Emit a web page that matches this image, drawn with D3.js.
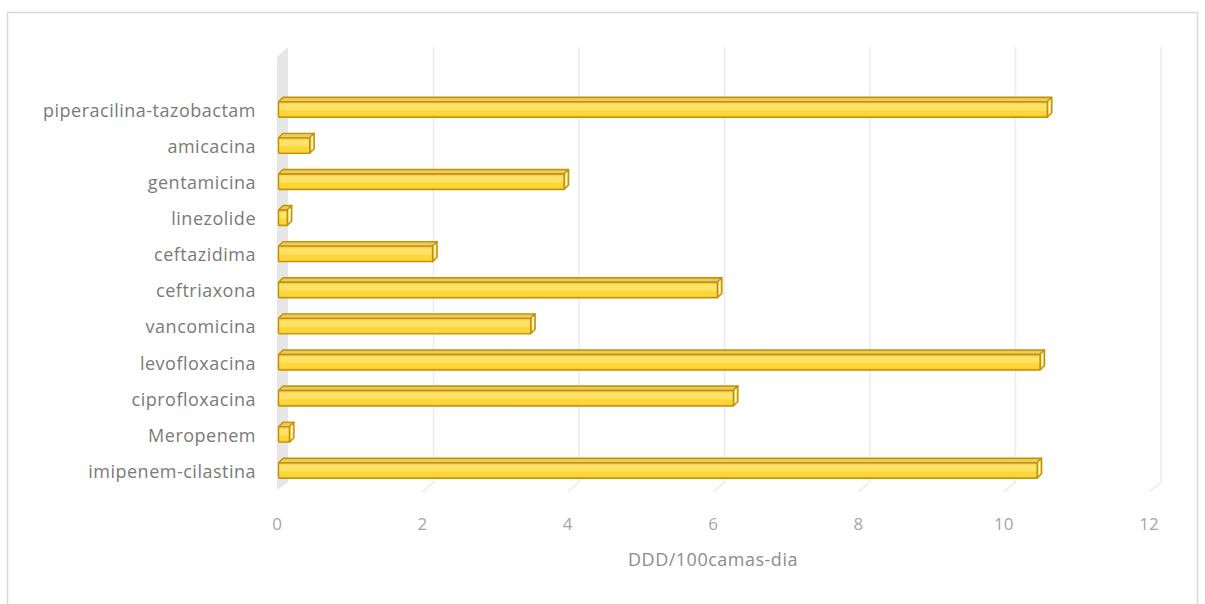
<!DOCTYPE html>
<html>
<head>
<meta charset="utf-8">
<script src="https://cdn.jsdelivr.net/npm/d3@7"></script>
<style>
  html, body { margin: 0; padding: 0; background: #ffffff; }
  svg { display: block; }
</style>
</head>
<body>
<svg id="chart" width="1205" height="604"></svg>
<script>
// Antibiotic consumption, DDD per 100 bed-days
const categories = [
  "piperacilina-tazobactam", "amicacina", "gentamicina", "linezolide",
  "ceftazidima", "ceftriaxona", "vancomicina", "levofloxacina",
  "ciprofloxacina", "Meropenem", "imipenem-cilastina"
];
const values = [10.58, 0.43, 3.93, 0.12, 2.12, 6.04, 3.47, 10.48, 6.26, 0.15, 10.44];
const tickValues = [0, 2, 4, 6, 8, 10, 12];
const axisTitle = "DDD/100camas-dia";

const svg = d3.select("#chart");

// Outer chart frame
svg.append("rect")
  .attr("x", 7.5).attr("y", 12.5)
  .attr("width", 1190).attr("height", 620)
  .attr("fill", "#fff").attr("stroke", "#d9d9d9").attr("stroke-width", 1.5);

// Perspective: back plane and front (floor edge) plane scales
const xBack  = d3.scaleLinear().domain([0, 12]).range([288, 1161]);
const xFront = d3.scaleLinear().domain([0, 12]).range([277, 1149]);
const xBar   = d3.scaleLinear().domain([0, 12]).range([278.5, 1150.5]);
const yBackTop = 47, yBackBottom = 482, yFrontBottom = 492, wallFrontTop = 57, wallFrontBottom = 490;

const y = d3.scalePoint().domain(categories).range([109.5, 470.5]);
const faceH = 15.5, depth = 4.5;

// Side wall
svg.append("path")
  .attr("d", `M${xFront(0)},${wallFrontTop} L${xBack(0)},${yBackTop} L${xBack(0)},${yBackBottom} L${xFront(0)},${wallFrontBottom} Z`)
  .attr("fill", "#e6e6e6");

// Gridlines (back wall + floor edge)
const grid = svg.append("g").attr("fill", "none").attr("stroke", "#ebebeb").attr("stroke-width", 1.5);
tickValues.filter(v => v > 0).forEach(v => {
  grid.append("path")
    .attr("d", `M${xBack(v)},${yBackTop} L${xBack(v)},${yBackBottom} L${xFront(v)},${yFrontBottom}`);
});

// Gradients for bar faces
const defs = svg.append("defs");
const gFront = defs.append("linearGradient").attr("id", "gFront")
  .attr("x1", 0).attr("y1", 0).attr("x2", 0).attr("y2", 1);
[[0, "#f0bf2a"], [0.18, "#ffe36e"], [0.5, "#ffe163"], [0.62, "#ffd433"], [0.85, "#ffd740"], [1, "#eeb918"]]
  .forEach(([o, c]) => gFront.append("stop").attr("offset", o).attr("stop-color", c));
const gTop = defs.append("linearGradient").attr("id", "gTop")
  .attr("x1", 0).attr("y1", 0).attr("x2", 0).attr("y2", 1);
[[0, "#e4bd4c"], [1, "#f4d67a"]]
  .forEach(([o, c]) => gTop.append("stop").attr("offset", o).attr("stop-color", c));

const edge = "#bf9304";
const bars = svg.append("g").selectAll("g").data(categories).join("g");

bars.each(function(cat, i) {
  const g = d3.select(this);
  const x0 = xBar(0), x1 = xBar(values[i]);
  const yt = y(cat) - faceH / 2, yb = y(cat) + faceH / 2;
  // top face
  g.append("path")
    .attr("d", `M${x0},${yt} L${x0 + depth},${yt - depth} L${x1 + depth},${yt - depth} L${x1},${yt} Z`)
    .attr("fill", "url(#gTop)").attr("stroke", edge).attr("stroke-width", 1.4).attr("stroke-linejoin", "round");
  // end face
  g.append("path")
    .attr("d", `M${x1},${yt} L${x1 + depth},${yt - depth} L${x1 + depth},${yb - depth} L${x1},${yb} Z`)
    .attr("fill", "#f5cf50").attr("stroke", edge).attr("stroke-width", 1.4).attr("stroke-linejoin", "round");
  g.append("line")
    .attr("x1", x1 + depth * 0.5).attr("x2", x1 + depth * 0.5)
    .attr("y1", yt - depth * 0.3).attr("y2", yb - depth * 0.8)
    .attr("stroke", "#fffbe8").attr("stroke-width", 1.4);
  // front face
  g.append("rect")
    .attr("x", x0).attr("y", yt)
    .attr("width", x1 - x0).attr("height", faceH)
    .attr("fill", "url(#gFront)").attr("stroke", edge).attr("stroke-width", 1.4).attr("rx", 1);
});

// Category labels
svg.append("g").selectAll("text").data(categories).join("text")
  .attr("x", 256).attr("y", d => y(d) + 1)
  .attr("dy", "0.35em")
  .attr("text-anchor", "end")
  .attr("font-family", "'Open Sans', sans-serif")
  .attr("font-size", 18)
  .attr("letter-spacing", "0.5px")
  .attr("fill", "#7a7a7a")
  .text(d => d);

// Value axis tick labels on the front edge
svg.append("g").selectAll("text").data(tickValues).join("text")
  .attr("x", d => xFront(d)).attr("y", 524)
  .attr("dy", "0.35em")
  .attr("text-anchor", "middle")
  .attr("font-family", "'Open Sans', sans-serif")
  .attr("font-size", 17)
  .attr("fill", "#a6a6a6")
  .text(d => d);

// Axis title
svg.append("text")
  .attr("x", 713).attr("y", 560)
  .attr("dy", "0.35em")
  .attr("text-anchor", "middle")
  .attr("font-family", "'Open Sans', sans-serif")
  .attr("font-size", 18)
  .attr("letter-spacing", "0.5px")
  .attr("fill", "#8c8c8c")
  .text(axisTitle);
</script>
</body>
</html>
